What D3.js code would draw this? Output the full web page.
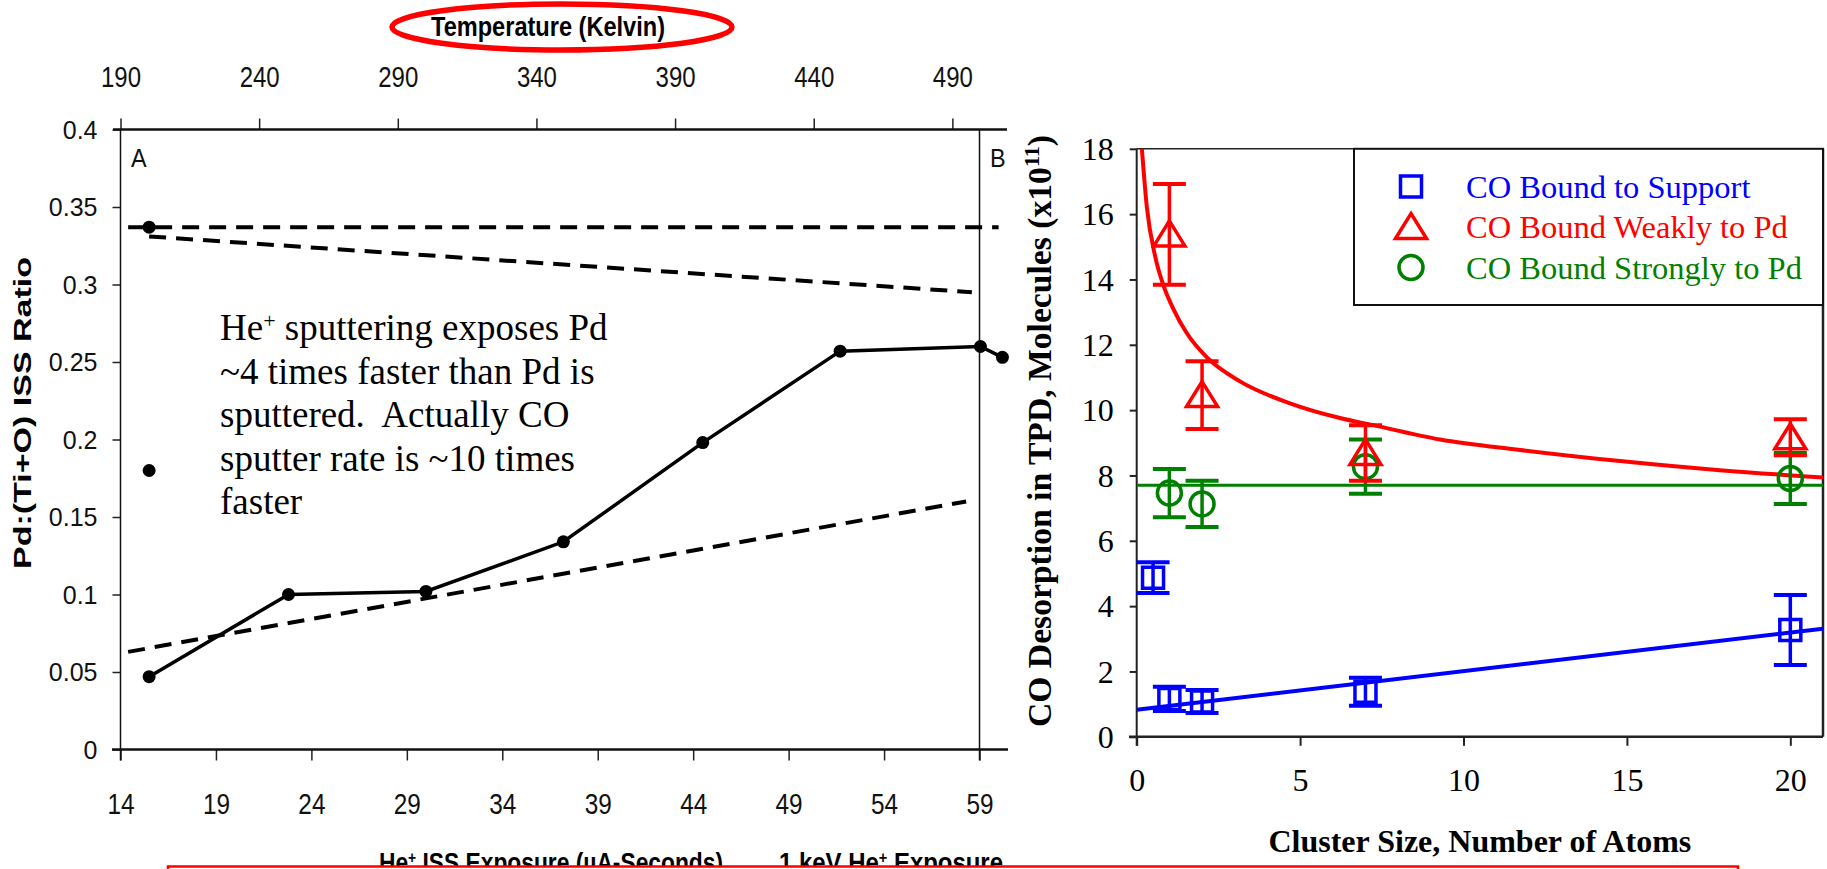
<!DOCTYPE html>
<html>
<head>
<meta charset="utf-8">
<script src="https://cdn.jsdelivr.net/npm/d3@7"></script>
<style>
  html, body { margin: 0; padding: 0; background: #fff; }
  svg { display: block; }
</style>
</head>
<body>
<svg id="fig" width="1827" height="869"></svg>
<script>
// ---------- Left panel: Pd:(Ti+O) ISS ratio vs He+ exposure ----------
const exposure = [15.5, 22.8, 30.0, 37.2, 44.5, 51.7, 59.05, 60.2];
const issRatio = [0.047, 0.100, 0.102, 0.134, 0.198, 0.257, 0.260, 0.253];
const looseExposure = [15.5, 15.5];
const looseRatio = [0.337, 0.180];
// dashed guide lines, start and end points (exposure, ratio)
const guideFrom = [[14.4, 0.337], [15.5, 0.331], [14.4, 0.063]];
const guideTo = [[60.0, 0.337], [58.6, 0.295], [58.3, 0.160]];
const exposureTicks = [14, 19, 24, 29, 34, 39, 44, 49, 54, 59];
const temperatureTicks = [190, 240, 290, 340, 390, 440, 490];
const ratioTicks = [0, 0.05, 0.1, 0.15, 0.2, 0.25, 0.3, 0.35, 0.4];
const noteLines = ["sputtering exposes Pd", "~4 times faster than Pd is",
  "sputtered.\u00a0 Actually CO", "sputter rate is ~10 times", "faster"];

// ---------- Right panel: CO desorption vs cluster size ----------
const supportSize = [0.5, 1, 2, 7, 20];
const supportCO = [4.87, 1.16, 1.08, 1.38, 3.27];
const supportErr = [0.47, 0.37, 0.35, 0.43, 1.07];
const weakSize = [1, 2, 7, 20];
const weakCO = [15.38, 10.46, 8.69, 9.17];
const weakErr = [1.54, 1.04, 0.85, 0.55];
const strongSize = [1, 2, 7, 20];
const strongCO = [7.46, 7.13, 8.27, 7.91];
const strongErr = [0.74, 0.71, 0.83, 0.78];
// fitted trend lines
const supportFitX = [0, 21];
const supportFitY = [0.83, 3.31];
const strongFitX = [0, 21];
const strongFitY = [7.7, 7.7];
const weakFitX = [0.153, 0.31, 0.56, 0.81, 1.12, 1.53, 2.14, 3.16, 4.69, 6.22, 7.24, 9.28, 11.73, 14.79, 17.85, 21.0];
const weakFitY = [18.07, 16.22, 14.73, 13.84, 13.1, 12.36, 11.62, 10.88, 10.21, 9.76, 9.54, 9.10, 8.78, 8.44, 8.16, 7.94];
const sizeTicks = [0, 5, 10, 15, 20];
const coTicks = [0, 2, 4, 6, 8, 10, 12, 14, 16, 18];
const legendLabels = ["CO Bound to Support", "CO Bound Weakly to Pd", "CO Bound Strongly to Pd"];

const BLUE = "#0000ff", RED = "#ff0000", GREEN = "#008000";
const SANS = "'Liberation Sans', Arial, sans-serif";
const SERIF = "'Liberation Serif', 'Times New Roman', serif";

const svg = d3.select("#fig");

// ================= LEFT PANEL =================
const xExp = d3.scaleLinear().domain([14, 60.44]).range([120.5, 1007]);
const xTemp = d3.scaleLinear().domain([190, 509.7]).range([120.5, 1007]);
const yRatio = d3.scaleLinear().domain([0, 0.4]).range([749.5, 129.5]);
const L = svg.append("g");

// bottom axis
const gBot = L.append("g").attr("transform", `translate(0,${yRatio(0)})`)
  .call(d3.axisBottom(xExp).tickValues(exposureTicks).tickSize(11).tickSizeOuter(0).tickFormat(d3.format("d")));
gBot.select(".domain").remove();
gBot.selectAll("line").attr("stroke", "#222").attr("stroke-width", 1.5);
gBot.selectAll("text").attr("y", 65).attr("dy", 0)
  .attr("font-size", 29).attr("font-family", SANS).attr("fill", "#111")
  .attr("transform", "scale(0.84,1)");

// top axis (temperature)
const gTop = L.append("g").attr("transform", `translate(0,${yRatio(0.4)})`)
  .call(d3.axisTop(xTemp).tickValues(temperatureTicks).tickSize(11).tickSizeOuter(0).tickFormat(d3.format("d")));
gTop.select(".domain").remove();
gTop.selectAll("line").attr("stroke", "#222").attr("stroke-width", 1.5);
gTop.selectAll("text").attr("y", -42.5).attr("dy", 0)
  .attr("font-size", 30).attr("font-family", SANS).attr("fill", "#111")
  .attr("transform", "scale(0.8,1)");

// left axis
const gLeft = L.append("g").attr("transform", `translate(${xExp(14)},0)`)
  .call(d3.axisLeft(yRatio).tickValues(ratioTicks).tickSize(8).tickSizeOuter(0).tickFormat(d => d === 0 ? "0" : String(+d.toFixed(2))));
gLeft.select(".domain").remove();
gLeft.selectAll("line").attr("stroke", "#222").attr("stroke-width", 1.5);
gLeft.selectAll("text").attr("x", -23).attr("dy", "0.35em")
  .attr("font-size", 25).attr("font-family", SANS).attr("fill", "#111");

// frame
L.append("line").attr("x1", 113).attr("x2", 1007).attr("y1", yRatio(0.4)).attr("y2", yRatio(0.4))
  .attr("stroke", "#111").attr("stroke-width", 2.5);
L.append("line").attr("x1", 112).attr("x2", 1008).attr("y1", yRatio(0)).attr("y2", yRatio(0))
  .attr("stroke", "#111").attr("stroke-width", 2.5);
L.append("line").attr("x1", xExp(14)).attr("x2", xExp(14)).attr("y1", yRatio(0.4)).attr("y2", yRatio(0) + 11)
  .attr("stroke", "#111").attr("stroke-width", 1.5);
L.append("line").attr("x1", xExp(59)).attr("x2", xExp(59)).attr("y1", yRatio(0.4)).attr("y2", yRatio(0) + 11)
  .attr("stroke", "#111").attr("stroke-width", 1.5);

// dashed guides
guideFrom.forEach((p, i) => {
  const q = guideTo[i];
  L.append("line")
    .attr("x1", xExp(p[0])).attr("y1", yRatio(p[1]))
    .attr("x2", xExp(q[0])).attr("y2", yRatio(q[1]))
    .attr("stroke", "#000").attr("stroke-width", 4).attr("stroke-dasharray", "17,10");
});

// measured ratio line + points
const ratioPts = exposure.map((x, i) => [x, issRatio[i]]);
L.append("path").datum(ratioPts)
  .attr("d", d3.line().x(d => xExp(d[0])).y(d => yRatio(d[1])))
  .attr("fill", "none").attr("stroke", "#000").attr("stroke-width", 3.5);
L.selectAll("circle.pt").data(ratioPts.concat(looseExposure.map((x, i) => [x, looseRatio[i]])))
  .enter().append("circle").attr("class", "pt")
  .attr("cx", d => xExp(d[0])).attr("cy", d => yRatio(d[1])).attr("r", 6.5).attr("fill", "#000");

// panel letters
L.append("text").attr("x", 131).attr("y", 167).attr("font-family", SANS).attr("font-size", 26)
  .attr("fill", "#111").attr("transform", "translate(131,0) scale(0.9,1) translate(-131,0)").text("A");
L.append("text").attr("x", 990).attr("y", 167).attr("font-family", SANS).attr("font-size", 26)
  .attr("fill", "#111").attr("transform", "translate(990,0) scale(0.9,1) translate(-990,0)").text("B");

// annotation
const note = L.append("text").attr("font-family", SERIF).attr("font-size", 37).attr("fill", "#000");
noteLines.forEach((t, i) => {
  const tl = note.append("tspan").attr("x", 220).attr("y", 340 + i * 43.5);
  if (i === 0) {
    tl.text("He");
    tl.append("tspan").attr("font-size", 22).attr("baseline-shift", "super").text("+");
    tl.append("tspan").text(" " + t);
  } else {
    tl.text(t);
  }
});

// axis titles
L.append("text").attr("font-family", SANS).attr("font-weight", "bold").attr("font-size", 33)
  .attr("text-anchor", "middle").attr("fill", "#000")
  .attr("transform", "translate(31,413) scale(0.7,1) rotate(-90)")
  .attr("textLength", 312).attr("lengthAdjust", "spacingAndGlyphs")
  .text("Pd:(Ti+O) ISS Ratio");

L.append("ellipse").attr("cx", 562).attr("cy", 27).attr("rx", 170).attr("ry", 23)
  .attr("fill", "none").attr("stroke", RED).attr("stroke-width", 5.5);
L.append("text").attr("x", 431).attr("y", 36).attr("font-family", SANS).attr("font-weight", "bold")
  .attr("font-size", 28).attr("fill", "#000")
  .attr("textLength", 234).attr("lengthAdjust", "spacingAndGlyphs")
  .text("Temperature (Kelvin)");

const botTitle = L.append("text").attr("x", 379).attr("y", 872).attr("font-family", SANS)
  .attr("font-weight", "bold").attr("font-size", 28).attr("fill", "#000");
botTitle.append("tspan").text("He");
botTitle.append("tspan").attr("font-size", 17).attr("baseline-shift", "super").text("+");
botTitle.append("tspan").text(" ISS Exposure (\u00b5A-Seconds)");
botTitle.attr("textLength", 344).attr("lengthAdjust", "spacingAndGlyphs");

const botTitle2 = L.append("text").attr("x", 779).attr("y", 872).attr("font-family", SANS)
  .attr("font-weight", "bold").attr("font-size", 28).attr("fill", "#000");
botTitle2.append("tspan").text("1 keV He");
botTitle2.append("tspan").attr("font-size", 17).attr("baseline-shift", "super").text("+");
botTitle2.append("tspan").text(" Exposure");
botTitle2.attr("textLength", 224).attr("lengthAdjust", "spacingAndGlyphs");

// caption box at the bottom edge
svg.append("rect").attr("x", 168).attr("y", 866.5).attr("width", 1570).attr("height", 30)
  .attr("fill", "#fff").attr("stroke", RED).attr("stroke-width", 2.5);

// ================= RIGHT PANEL =================
const xSize = d3.scaleLinear().domain([0, 21]).range([1136.7, 1823]);
const yCO = d3.scaleLinear().domain([0, 18]).range([736.8, 148.8]);
const R = svg.append("g");

R.append("defs").append("clipPath").attr("id", "plotClip").append("rect")
  .attr("x", xSize(0)).attr("y", yCO(18)).attr("width", xSize(21) - xSize(0)).attr("height", yCO(0) - yCO(18));

const gX = R.append("g").attr("transform", `translate(0,${yCO(0)})`)
  .call(d3.axisBottom(xSize).tickValues(sizeTicks).tickSize(9).tickSizeOuter(0));
gX.select(".domain").remove();
gX.selectAll("line").attr("stroke", "#222").attr("stroke-width", 2);
gX.selectAll("text").attr("y", 54).attr("dy", 0)
  .attr("font-size", 32).attr("font-family", SERIF).attr("fill", "#000");

const gY = R.append("g").attr("transform", `translate(${xSize(0)},0)`)
  .call(d3.axisLeft(yCO).tickValues(coTicks).tickSize(7).tickSizeOuter(0));
gY.select(".domain").remove();
gY.selectAll("line").attr("stroke", "#222").attr("stroke-width", 2);
gY.selectAll("text").attr("x", -23).attr("dy", "0.33em")
  .attr("font-size", 32).attr("font-family", SERIF).attr("fill", "#000");

// frame
R.append("line").attr("x1", xSize(0)).attr("x2", xSize(0)).attr("y1", yCO(18)).attr("y2", yCO(0) + 9)
  .attr("stroke", "#222").attr("stroke-width", 2);
R.append("line").attr("x1", 1129).attr("x2", xSize(21)).attr("y1", yCO(0)).attr("y2", yCO(0))
  .attr("stroke", "#222").attr("stroke-width", 2.5);
R.append("line").attr("x1", xSize(0)).attr("x2", xSize(21)).attr("y1", yCO(18)).attr("y2", yCO(18))
  .attr("stroke", "#222").attr("stroke-width", 1.5);
R.append("line").attr("x1", xSize(21)).attr("x2", xSize(21)).attr("y1", yCO(18)).attr("y2", yCO(0))
  .attr("stroke", "#222").attr("stroke-width", 2.5);

// fit lines
const fitLine = d3.line().x(d => xSize(d[0])).y(d => yCO(d[1]));
const plotArea = R.append("g").attr("clip-path", "url(#plotClip)");
plotArea.append("path").datum(supportFitX.map((x, i) => [x, supportFitY[i]]))
  .attr("d", fitLine).attr("fill", "none").attr("stroke", BLUE).attr("stroke-width", 4);
plotArea.append("path").datum(strongFitX.map((x, i) => [x, strongFitY[i]]))
  .attr("d", fitLine).attr("fill", "none").attr("stroke", GREEN).attr("stroke-width", 3);
plotArea.append("path").datum(weakFitX.map((x, i) => [x, weakFitY[i]]))
  .attr("d", fitLine.curve(d3.curveMonotoneX)).attr("fill", "none").attr("stroke", RED).attr("stroke-width", 4);

// error bars and hollow markers
const markerPath = {
  square: () => "M-10.5,-10.5H10.5V10.5H-10.5Z",
  triangle: () => "M0,-13.5L15.5,11.5H-15.5Z",
  circle: () => "M12,0A12,12 0 1,1 -12,0A12,12 0 1,1 12,0Z"
};
function drawSeries(xs, ys, errs, color, shape) {
  const g = R.append("g");
  xs.forEach((x, i) => {
    const cx = xSize(x), top = yCO(ys[i] + errs[i]), bot = yCO(ys[i] - errs[i]);
    g.append("line").attr("x1", cx).attr("x2", cx).attr("y1", top).attr("y2", bot)
      .attr("stroke", color).attr("stroke-width", 3.5);
    [top, bot].forEach(yy => g.append("line").attr("x1", cx - 16.5).attr("x2", cx + 16.5)
      .attr("y1", yy).attr("y2", yy).attr("stroke", color).attr("stroke-width", 4));
    g.append("path").attr("d", markerPath[shape]())
      .attr("transform", `translate(${cx},${yCO(ys[i])})`)
      .attr("fill", "none").attr("stroke", color).attr("stroke-width", 3.5);
  });
}
drawSeries(supportSize, supportCO, supportErr, BLUE, "square");
drawSeries(strongSize, strongCO, strongErr, GREEN, "circle");
drawSeries(weakSize, weakCO, weakErr, RED, "triangle");

// legend
const lg = R.append("g");
lg.append("rect").attr("x", 1354).attr("y", yCO(18)).attr("width", xSize(21) - 1354).attr("height", 305 - yCO(18))
  .attr("fill", "#fff").attr("stroke", "#111").attr("stroke-width", 2);
const legendColors = [BLUE, RED, GREEN];
const legendShapes = ["square", "triangle", "circle"];
legendLabels.forEach((t, i) => {
  const cy = 186.5 + i * 40.5;
  lg.append("path").attr("d", markerPath[legendShapes[i]]())
    .attr("transform", `translate(1411,${cy})`)
    .attr("fill", "none").attr("stroke", legendColors[i]).attr("stroke-width", 3.5);
  lg.append("text").attr("x", 1466).attr("y", cy + 11).attr("font-family", SERIF).attr("font-size", 32.5)
    .attr("fill", legendColors[i]).text(t);
});

// axis titles
R.append("text").attr("x", (xSize(0) + xSize(21)) / 2).attr("y", 852).attr("text-anchor", "middle")
  .attr("font-family", SERIF).attr("font-weight", "bold").attr("font-size", 32).attr("fill", "#000")
  .text("Cluster Size, Number of Atoms");
const yTitle = R.append("text").attr("text-anchor", "middle")
  .attr("transform", "translate(1051,431) rotate(-90)")
  .attr("font-family", SERIF).attr("font-weight", "bold").attr("font-size", 33.5).attr("fill", "#000");
yTitle.append("tspan").text("CO Desorption in TPD, Molecules (x10");
yTitle.append("tspan").attr("font-size", 22).attr("baseline-shift", "super").text("11");
yTitle.append("tspan").text(")");
yTitle.attr("textLength", 592).attr("lengthAdjust", "spacingAndGlyphs");
</script>
</body>
</html>
